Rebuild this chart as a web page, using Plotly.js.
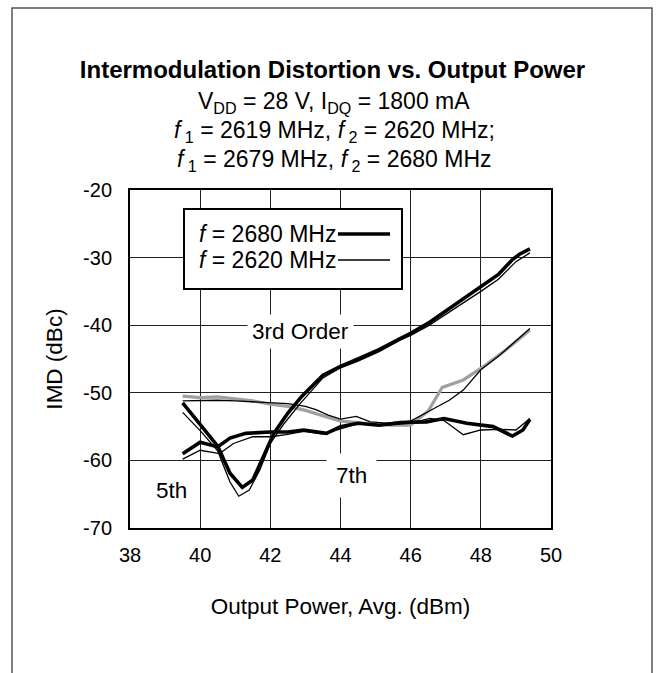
<!DOCTYPE html>
<html>
<head>
<meta charset="utf-8">
<script src="https://cdn.plot.ly/plotly-3.0.1.min.js"></script>
<style>html,body{margin:0;padding:0;background:#fff;}#chart{width:665px;height:673px;}</style>
</head>
<body>
<div id="chart"></div>
<script>
// ---- data ----
const xTicks = [38, 40, 42, 44, 46, 48, 50];
const yTicks = [-20, -30, -40, -50, -60, -70];

// 3rd order
const x3_2680 = [39.5, 40.0, 40.5, 40.85, 41.2, 41.5, 41.8, 42.1, 42.5, 42.9, 43.5, 44.0, 44.5, 45.1, 45.7, 46.0, 46.5, 47.0, 47.5, 48.0, 48.5, 48.9, 49.1, 49.4];
const y3_2680 = [-51.5, -54.8, -57.9, -61.9, -64.0, -62.9, -59.5, -56.0, -53.0, -50.5, -47.4, -46.1, -45.0, -43.6, -42.0, -41.2, -39.7, -37.9, -36.1, -34.4, -32.5, -30.3, -29.5, -28.7];
const x3_2620 = [39.5, 40.0, 40.5, 40.85, 41.1, 41.4, 41.7, 42.0, 42.4, 42.85, 43.5, 44.0, 44.5, 45.1, 45.7, 46.0, 46.5, 47.0, 47.5, 48.0, 48.5, 49.0, 49.4];
const y3_2620 = [-52.9, -55.6, -58.6, -63.2, -65.3, -64.4, -61.4, -57.5, -54.5, -51.6, -47.8, -46.3, -45.3, -43.9, -42.2, -41.5, -40.1, -38.4, -36.8, -35.0, -33.2, -30.6, -29.3];

// 5th order
const x5_2680 = [39.5, 40.0, 40.5, 41.0, 41.5, 42.0, 42.5, 43.0, 43.5, 44.0, 44.5, 45.0, 45.5, 46.0, 46.5, 46.9, 47.5, 48.0, 48.7, 49.4];
const y5_2680 = [-50.5, -50.7, -50.6, -50.9, -51.2, -51.7, -52.0, -52.6, -53.4, -54.2, -54.4, -54.7, -54.8, -54.8, -52.7, -49.2, -48.1, -46.4, -43.7, -40.7];
const x5_2620 = [39.5, 40.0, 40.5, 41.0, 41.5, 42.0, 42.5, 43.0, 43.3, 43.65, 44.0, 44.45, 44.85, 45.3, 46.0, 46.6, 47.1, 47.5, 48.0, 48.5, 49.0, 49.4];
const y5_2620 = [-51.2, -51.1, -51.1, -51.2, -51.3, -51.4, -51.6, -52.0, -52.5, -53.3, -53.9, -53.5, -54.3, -54.5, -54.2, -52.5, -51.1, -49.6, -46.6, -44.6, -42.4, -40.5];

// 7th order
const x7_2680 = [39.5, 40.0, 40.5, 40.85, 41.3, 42.0, 42.5, 42.95, 43.6, 44.0, 44.5, 45.1, 45.7, 46.45, 46.95, 47.6, 48.35, 48.65, 48.9, 49.2, 49.4];
const y7_2680 = [-59.0, -57.3, -58.0, -56.7, -56.0, -55.8, -55.8, -55.5, -56.0, -55.0, -54.5, -54.8, -54.4, -54.3, -53.8, -54.5, -55.0, -55.7, -56.4, -55.5, -53.9];
const x7_2620 = [39.5, 40.0, 40.55, 40.95, 41.5, 42.0, 42.45, 42.95, 43.5, 44.0, 44.55, 45.3, 46.0, 46.55, 46.95, 47.5, 48.0, 48.55, 49.0, 49.4];
const y7_2620 = [-59.8, -58.5, -59.0, -57.5, -56.5, -56.5, -56.2, -55.7, -56.1, -55.3, -54.5, -54.8, -54.5, -53.8, -54.1, -56.2, -55.5, -55.4, -55.5, -53.8];

const FONT = 'Arial, "Liberation Sans", sans-serif';
const thick = {color: '#000', width: 3.6};
const thin = {color: '#000', width: 1.3};
const grayThick = {color: '#a0a0a0', width: 3.2};

const traces = [
  {x: x5_2680, y: y5_2680, line: grayThick},
  {x: x5_2620, y: y5_2620, line: thin},
  {x: x7_2680, y: y7_2680, line: thick},
  {x: x7_2620, y: y7_2620, line: thin},
  {x: x3_2680, y: y3_2680, line: thick},
  {x: x3_2620, y: y3_2620, line: thin}
].map(t => Object.assign({type: 'scatter', mode: 'lines', showlegend: false, hoverinfo: 'skip'}, t));

const L = 130, R = 551, T = 190, B = 528;
const W = 665, H = 673;
const px = v => (v - L) / (R - L);
const py = v => (B - v) / (B - T);

const layout = {
  width: W, height: H,
  margin: {l: L, r: W - R, t: T, b: H - B, pad: 0},
  paper_bgcolor: '#fff', plot_bgcolor: '#fff',
  font: {family: FONT, color: '#000', size: 20},
  showlegend: false,
  title: {text: '<b>Intermodulation Distortion vs. Output Power</b>', font: {family: FONT, size: 24, color: '#000'},
          x: 0.5, xref: 'container', xanchor: 'center', y: 1 - 70 / H, yref: 'container', yanchor: 'middle'},
  xaxis: {range: [38, 50], tickvals: xTicks, ticktext: xTicks.map(String), showgrid: true, gridcolor: '#222', gridwidth: 1,
          zeroline: false, showline: true, linecolor: '#000', linewidth: 2, mirror: true,
          ticks: 'outside', ticklen: 8, tickcolor: 'rgba(0,0,0,0)', tickfont: {size: 20, family: FONT},
          title: {text: 'Output Power, Avg. (dBm)', font: {size: 22.5, family: FONT}, standoff: 33}},
  yaxis: {range: [-70, -20], tickvals: yTicks, ticktext: yTicks.map(String), showgrid: true, gridcolor: '#222', gridwidth: 1,
          zeroline: false, showline: true, linecolor: '#000', linewidth: 2, mirror: true,
          ticks: 'outside', ticklen: 12, tickcolor: 'rgba(0,0,0,0)', tickfont: {size: 20, family: FONT},
          title: {text: 'IMD (dBc)', font: {size: 22.5, family: FONT}, standoff: 14}},
  shapes: [
    // outer frame (open at the bottom)
    {type: 'path', xref: 'paper', yref: 'paper', layer: 'above',
     path: `M ${px(12)} ${py(H)} L ${px(12)} ${py(8)} L ${px(652)} ${py(8)} L ${px(652)} ${py(H)}`,
     line: {color: '#555', width: 1.5}},
    // legend box
    {type: 'rect', xref: 'paper', yref: 'paper', layer: 'above', x0: px(184), x1: px(402), y0: py(289), y1: py(209),
     fillcolor: '#fff', line: {color: '#000', width: 2}},
    {type: 'line', xref: 'paper', yref: 'paper', layer: 'above', x0: px(338), x1: px(390), y0: py(234), y1: py(234), line: {color: '#000', width: 3.6}},
    {type: 'line', xref: 'paper', yref: 'paper', layer: 'above', x0: px(338), x1: px(390), y0: py(260), y1: py(260), line: {color: '#000', width: 1.3}}
  ],
  annotations: [
    {xref: 'paper', yref: 'paper', x: px(334), y: py(102), xanchor: 'center', yanchor: 'middle', showarrow: false,
     text: 'V<sub>DD</sub> = 28 V, I<sub>DQ</sub> = 1800 mA', font: {size: 23}},
    {xref: 'paper', yref: 'paper', x: px(334), y: py(131), xanchor: 'center', yanchor: 'middle', showarrow: false,
     text: '<i>f</i><sub> 1</sub> = 2619 MHz, <i>f</i><sub> 2</sub> = 2620 MHz;', font: {size: 23}},
    {xref: 'paper', yref: 'paper', x: px(334), y: py(160), xanchor: 'center', yanchor: 'middle', showarrow: false,
     text: '<i>f</i><sub> 1</sub> = 2679 MHz, <i>f</i><sub> 2</sub> = 2680 MHz', font: {size: 23}},
    {xref: 'paper', yref: 'paper', x: px(338), y: py(234), xanchor: 'right', yanchor: 'middle', showarrow: false,
     text: '<i>f</i> = 2680 MHz', font: {size: 23}},
    {xref: 'paper', yref: 'paper', x: px(338), y: py(260), xanchor: 'right', yanchor: 'middle', showarrow: false,
     text: '<i>f</i> = 2620 MHz', font: {size: 23}},
    {xref: 'x', yref: 'y', x: 42.87, y: -41.0, showarrow: false, text: '3rd Order', font: {size: 22.5},
     bgcolor: '#fff', borderpad: 4},
    {xref: 'x', yref: 'y', x: 39.17, y: -64.4, showarrow: false, text: '5th', font: {size: 22.5}},
    {xref: 'x', yref: 'y', x: 44.32, y: -62.2, showarrow: false, text: '7th', font: {size: 22.5},
     bgcolor: '#fff', borderpad: 9}
  ]
};

Plotly.newPlot('chart', traces, layout, {displayModeBar: false, staticPlot: true});
</script>
</body>
</html>
